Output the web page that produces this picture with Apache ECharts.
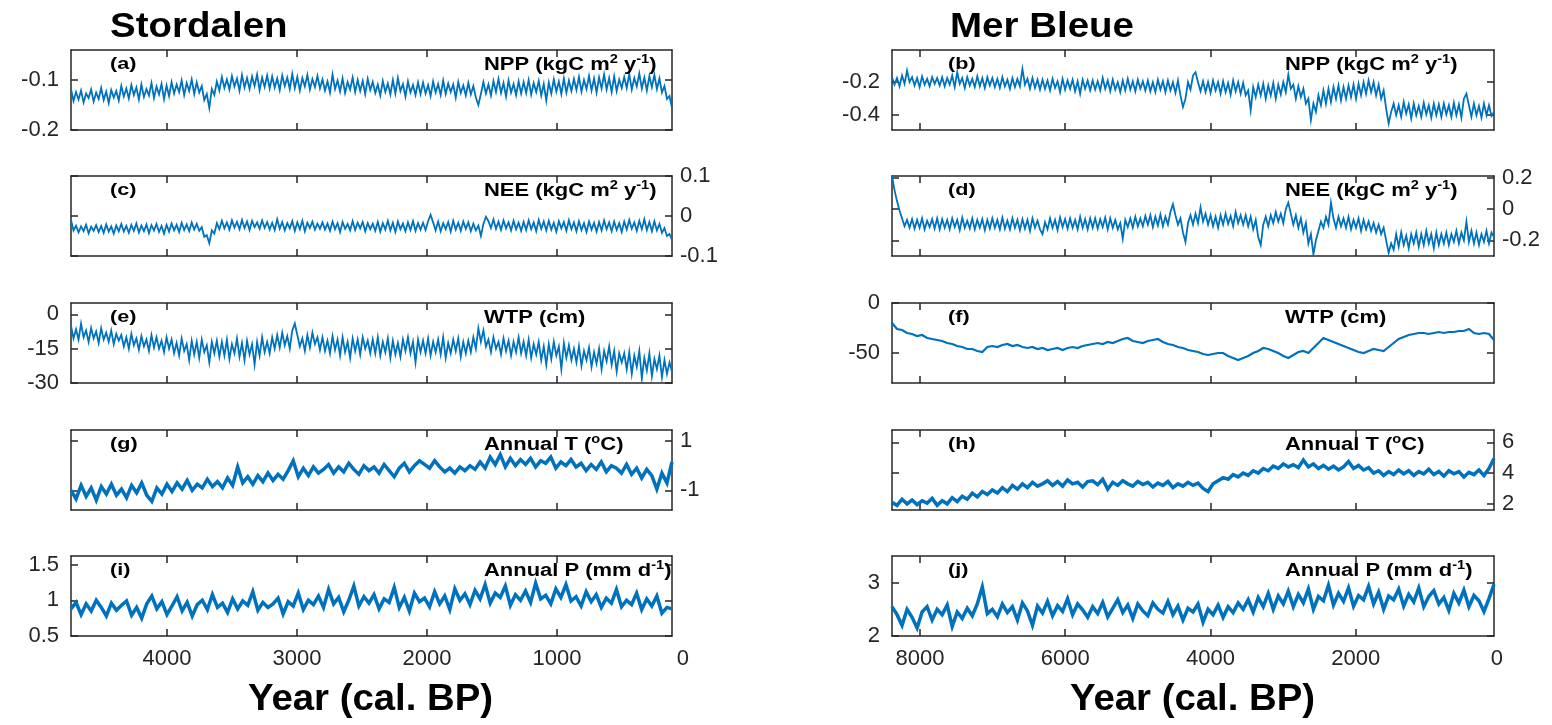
<!DOCTYPE html>
<html><head><meta charset="utf-8">
<script src="https://cdn.jsdelivr.net/npm/echarts@6/dist/echarts.min.js"></script>
<style>html,body{margin:0;padding:0;background:#fff}#c{width:1552px;height:725px}</style>
</head><body><div id="c"></div>
<script>
// ---------- axis ticks / ranges (years cal. BP) ----------
const stordXTicks = [1000, 2000, 3000, 4000];
const merXTicks = [2000, 4000, 6000, 8000];
const stordRange = [115, 4738];
const merRange = [96, 8385];

// ---------- Stordalen series (oldest -> youngest) ----------
const nppStord = [
-0.118,-0.142,-0.124,-0.139,-0.121,-0.145,-0.127,-0.136,-0.119,-0.143,-0.125,-0.138,-0.116,-0.140,-0.123,-0.146,-0.120,-0.135,-0.122,-0.141,
-0.112,-0.133,-0.117,-0.137,-0.110,-0.130,-0.115,-0.139,-0.109,-0.134,-0.118,-0.131,-0.106,-0.136,-0.113,-0.129,-0.108,-0.138,-0.111,-0.132,
-0.104,-0.127,-0.109,-0.124,-0.101,-0.130,-0.106,-0.122,-0.099,-0.128,-0.105,-0.125,-0.112,-0.140,-0.128,-0.156,-0.118,-0.130,-0.103,-0.121,
-0.094,-0.116,-0.099,-0.119,-0.092,-0.113,-0.097,-0.121,-0.090,-0.115,-0.096,-0.118,-0.093,-0.112,-0.089,-0.120,-0.095,-0.114,-0.091,-0.117,
-0.093,-0.115,-0.097,-0.120,-0.091,-0.112,-0.095,-0.118,-0.088,-0.116,-0.094,-0.121,-0.096,-0.113,-0.090,-0.119,-0.098,-0.114,-0.092,-0.117,
-0.099,-0.121,-0.103,-0.125,-0.089,-0.118,-0.101,-0.123,-0.097,-0.126,-0.104,-0.119,-0.095,-0.124,-0.100,-0.122,-0.102,-0.128,-0.098,-0.120,
-0.104,-0.126,-0.109,-0.131,-0.102,-0.124,-0.107,-0.129,-0.100,-0.127,-0.096,-0.122,-0.108,-0.133,-0.103,-0.125,-0.110,-0.130,-0.105,-0.128,
-0.105,-0.127,-0.110,-0.132,-0.103,-0.125,-0.108,-0.130,-0.101,-0.128,-0.107,-0.124,-0.109,-0.135,-0.104,-0.126,-0.111,-0.131,-0.106,-0.129,
-0.112,-0.135,-0.150,-0.128,-0.104,-0.127,-0.109,-0.131,-0.102,-0.124,-0.098,-0.126,-0.106,-0.133,-0.101,-0.125,-0.108,-0.130,-0.103,-0.127,
-0.104,-0.126,-0.100,-0.129,-0.106,-0.124,-0.102,-0.131,-0.108,-0.141,-0.105,-0.127,-0.099,-0.123,-0.103,-0.128,-0.097,-0.125,-0.101,-0.122,
-0.098,-0.120,-0.094,-0.123,-0.100,-0.118,-0.092,-0.121,-0.097,-0.125,-0.095,-0.117,-0.089,-0.119,-0.096,-0.124,-0.093,-0.122,-0.099,-0.116,
-0.094,-0.116,-0.088,-0.119,-0.096,-0.113,-0.087,-0.117,-0.095,-0.121,-0.092,-0.114,-0.090,-0.118,-0.097,-0.125,-0.112,-0.138,-0.132,-0.156];

const neeStord = [
-0.010,-0.036,-0.024,-0.041,-0.026,-0.038,-0.022,-0.043,-0.027,-0.037,-0.023,-0.040,-0.025,-0.042,-0.021,-0.039,-0.026,-0.044,-0.024,-0.038,
-0.020,-0.039,-0.025,-0.042,-0.022,-0.037,-0.019,-0.041,-0.024,-0.038,-0.021,-0.043,-0.023,-0.036,-0.020,-0.040,-0.025,-0.044,-0.022,-0.039,
-0.019,-0.036,-0.022,-0.040,-0.017,-0.035,-0.021,-0.038,-0.016,-0.034,-0.020,-0.037,-0.028,-0.052,-0.048,-0.068,-0.036,-0.044,-0.018,-0.033,
-0.012,-0.031,-0.016,-0.034,-0.011,-0.029,-0.015,-0.033,-0.010,-0.030,-0.014,-0.035,-0.012,-0.028,-0.016,-0.032,-0.011,-0.030,-0.015,-0.034,
-0.017,-0.035,-0.008,-0.032,-0.015,-0.036,-0.018,-0.031,-0.013,-0.037,-0.016,-0.033,-0.012,-0.038,-0.017,-0.030,-0.014,-0.034,-0.019,-0.032,
-0.016,-0.034,-0.019,-0.037,-0.014,-0.033,-0.018,-0.040,-0.015,-0.032,-0.020,-0.036,-0.013,-0.035,-0.017,-0.031,-0.015,-0.038,-0.018,-0.033,
-0.019,-0.037,-0.015,-0.039,-0.018,-0.034,-0.012,-0.036,-0.017,-0.040,-0.014,-0.033,-0.019,-0.038,-0.016,-0.035,-0.013,-0.037,-0.018,-0.034,
-0.017,-0.035,-0.013,0.003,-0.016,-0.036,-0.014,-0.038,-0.018,-0.033,-0.015,-0.039,-0.012,-0.034,-0.017,-0.037,-0.014,-0.032,-0.016,-0.038,
-0.019,-0.036,-0.024,-0.050,-0.020,-0.002,-0.013,-0.030,-0.009,-0.032,-0.014,-0.035,-0.011,-0.031,-0.016,-0.036,-0.012,-0.033,-0.017,-0.037,
-0.015,-0.035,-0.011,-0.033,-0.016,-0.038,-0.010,-0.032,-0.014,-0.036,-0.012,-0.034,-0.017,-0.039,-0.013,-0.031,-0.015,-0.037,-0.011,-0.033,
-0.016,-0.038,-0.013,-0.035,-0.018,-0.040,-0.014,-0.034,-0.017,-0.039,-0.015,-0.036,-0.011,-0.033,-0.016,-0.038,-0.014,-0.035,-0.018,-0.040,
-0.014,-0.034,-0.010,-0.032,-0.016,-0.037,-0.012,-0.033,-0.008,-0.035,-0.015,-0.038,-0.013,-0.036,-0.020,-0.042,-0.030,-0.050,-0.045,-0.060];

const wtpStord = [
-5,-10.5,-6.5,-11,-4,-10,-7,-12,-6,-10.5,-7.5,-12.5,-6,-11,-8,-12,-7,-13,-8.5,-11.5,
-9,-14,-10,-15,-8.5,-13.5,-10.5,-15.5,-9.5,-14,-11,-16,-9,-14.5,-10,-15,-11.5,-16.5,-10,-15,
-11,-17,-12.5,-18,-10.5,-16,-13,-20,-11.5,-17.5,-12,-19,-11,-16.5,-13.5,-21,-12,-17,-11.5,-18.5,
-12,-18,-11,-19.5,-13,-17,-10.5,-18.5,-12.5,-20,-11.5,-17.5,-13,-22,-12,-18,-10,-16.5,-12,-17,
-10,-15,-9,-14.5,-8,-13.5,-9.5,-15,-7,-4,-9,-14,-10.5,-16,-9,-14.5,-8,-13,-10,-15.5,
-10,-16,-11.5,-17,-9.5,-15.5,-11,-18,-10,-16.5,-12,-19,-10.5,-16,-11,-17.5,-10,-15,-11.5,-17,
-11,-17,-10,-18,-12,-16.5,-10.5,-19,-11.5,-17.5,-12.5,-18.5,-11,-16,-10,-17,-12,-21,-11,-16.5,
-11.5,-17,-10.5,-18,-12,-16.5,-11,-17.5,-10,-19,-12.5,-17,-11,-16,-10.5,-18.5,-12,-17,-11.5,-16.5,
-10,-15,-6,-12,-7,-14,-11,-16.5,-10,-15,-12,-17.5,-10.5,-16,-11.5,-18,-12,-16.5,-10,-17,
-12,-18,-11,-19,-13,-17.5,-12,-20,-14,-22,-13,-19.5,-12,-18,-14,-24,-12.5,-19,-13.5,-20,
-15,-21,-14,-22.5,-16,-20,-14.5,-23,-16.5,-21.5,-15,-24,-16,-20.5,-14,-22,-16,-25,-17,-21,
-17,-24,-16.5,-26,-18,-23,-16,-28,-19,-24.5,-17,-27,-19.5,-24,-18,-27.5,-20,-26,-21,-25];

const tStord = [
-1.0,-1.35,-0.8,-1.25,-0.9,-1.4,-0.85,-1.15,-0.75,-1.2,
-0.95,-1.3,-0.8,-1.1,-0.7,-1.2,-1.45,-0.9,-1.15,-0.75,
-1.05,-0.7,-0.95,-0.6,-1.0,-0.75,-0.9,-0.55,-0.85,-0.65,
-0.9,-0.5,-0.8,-0.05,-0.7,-0.45,-0.75,-0.4,-0.65,-0.3,
-0.6,-0.35,-0.55,-0.2,0.2,-0.45,-0.1,-0.4,-0.05,-0.3,
-0.15,0.05,-0.3,-0.05,-0.25,0.1,-0.15,-0.35,0.0,-0.2,
-0.05,-0.3,0.05,-0.2,-0.45,-0.1,0.1,-0.25,0.0,0.2,
0.05,-0.1,0.2,-0.05,-0.25,-0.1,-0.3,-0.05,-0.2,0.0,
-0.15,0.15,-0.1,0.35,0.05,0.45,-0.05,0.3,0.0,0.25,
0.05,0.3,-0.05,0.2,0.1,0.35,-0.1,0.15,0.0,0.25,
-0.05,0.1,-0.2,0.05,-0.15,0.15,-0.25,0.0,-0.1,-0.3,
0.05,-0.35,-0.1,-0.5,-0.15,-0.4,-0.95,-0.3,-0.7,0.15];

const pStord = [
0.88,0.97,0.8,0.95,0.85,1.0,0.9,0.78,0.96,0.86,
0.93,0.99,0.79,0.9,0.75,0.95,1.06,0.88,0.98,0.8,
0.92,1.05,0.85,0.97,0.78,0.94,1.0,0.87,1.08,0.9,
0.96,0.83,1.02,0.88,0.99,0.93,1.12,0.86,0.97,0.9,
0.95,1.03,0.81,0.98,0.92,1.1,0.87,1.0,0.94,1.06,
0.9,1.15,0.95,1.04,0.84,1.0,1.2,0.92,1.05,0.96,
1.08,0.88,1.02,0.97,1.18,0.9,1.04,0.85,1.1,0.98,
1.03,0.91,1.12,0.95,1.06,0.87,1.16,1.0,1.09,0.94,
1.14,1.02,1.22,0.96,1.1,1.04,1.2,0.93,1.08,1.0,
1.13,0.97,1.24,1.02,1.07,0.95,1.16,1.04,1.22,0.99,
1.05,0.92,1.12,0.98,1.08,0.9,1.03,0.96,1.15,0.91,
1.0,0.94,1.1,0.87,1.02,0.92,1.06,0.82,0.9,0.88];

// ---------- Mer Bleue series (oldest -> youngest) ----------
const nppMer = [
-0.17,-0.215,-0.175,-0.225,-0.16,-0.21,-0.13,-0.2,-0.17,-0.22,-0.175,-0.23,-0.165,-0.215,-0.18,-0.225,-0.17,-0.21,-0.175,-0.22,
-0.17,-0.225,-0.175,-0.215,-0.16,-0.23,-0.14,-0.21,-0.175,-0.235,-0.17,-0.22,-0.18,-0.23,-0.165,-0.225,-0.175,-0.235,-0.17,-0.22,
-0.175,-0.23,-0.18,-0.235,-0.17,-0.225,-0.185,-0.24,-0.175,-0.23,-0.18,-0.225,-0.12,-0.215,-0.18,-0.24,-0.175,-0.235,-0.185,-0.245,
-0.185,-0.24,-0.19,-0.25,-0.18,-0.235,-0.195,-0.26,-0.18,-0.245,-0.19,-0.24,-0.185,-0.255,-0.195,-0.27,-0.185,-0.24,-0.19,-0.25,
-0.19,-0.245,-0.195,-0.25,-0.175,-0.24,-0.19,-0.255,-0.185,-0.245,-0.2,-0.26,-0.19,-0.25,-0.18,-0.245,-0.195,-0.255,-0.185,-0.24,
-0.195,-0.25,-0.19,-0.255,-0.2,-0.26,-0.185,-0.245,-0.195,-0.26,-0.19,-0.25,-0.2,-0.265,-0.19,-0.28,-0.35,-0.3,-0.2,-0.245,
-0.16,-0.14,-0.2,-0.255,-0.195,-0.26,-0.2,-0.265,-0.19,-0.25,-0.2,-0.27,-0.195,-0.26,-0.205,-0.275,-0.19,-0.255,-0.2,-0.27,
-0.205,-0.28,-0.25,-0.37,-0.23,-0.29,-0.215,-0.28,-0.21,-0.3,-0.22,-0.28,-0.205,-0.3,-0.215,-0.275,-0.2,-0.26,-0.155,-0.24,
-0.215,-0.3,-0.225,-0.29,-0.24,-0.33,-0.3,-0.43,-0.33,-0.38,-0.28,-0.34,-0.25,-0.33,-0.24,-0.32,-0.23,-0.3,-0.22,-0.31,
-0.23,-0.3,-0.22,-0.29,-0.215,-0.3,-0.21,-0.28,-0.2,-0.27,-0.19,-0.26,-0.2,-0.28,-0.215,-0.3,-0.25,-0.36,-0.45,-0.38,
-0.33,-0.4,-0.34,-0.41,-0.32,-0.39,-0.335,-0.42,-0.33,-0.4,-0.345,-0.41,-0.325,-0.395,-0.34,-0.415,-0.33,-0.4,-0.335,-0.41,
-0.33,-0.395,-0.34,-0.41,-0.325,-0.4,-0.335,-0.415,-0.3,-0.27,-0.34,-0.41,-0.33,-0.4,-0.345,-0.415,-0.33,-0.4,-0.34,-0.405,-0.38];

const neeMer = [
0.21,0.12,0.05,-0.01,-0.06,-0.11,-0.07,-0.12,-0.065,-0.125,-0.07,-0.12,-0.06,-0.13,-0.075,-0.115,-0.065,-0.125,-0.06,-0.13,
-0.065,-0.12,-0.07,-0.13,-0.06,-0.115,-0.07,-0.135,-0.055,-0.12,-0.075,-0.125,-0.06,-0.13,-0.07,-0.12,-0.065,-0.135,-0.07,-0.125,
-0.06,-0.12,-0.07,-0.13,-0.055,-0.125,-0.075,-0.13,-0.06,-0.12,-0.07,-0.135,-0.065,-0.125,-0.07,-0.14,-0.06,-0.12,-0.075,-0.13,
-0.16,-0.085,-0.13,-0.06,-0.12,-0.07,-0.135,-0.055,-0.115,-0.065,-0.125,-0.06,-0.12,-0.07,-0.13,-0.05,-0.12,-0.065,-0.13,-0.06,
-0.12,-0.06,-0.125,-0.065,-0.115,-0.055,-0.13,-0.06,-0.12,-0.07,-0.13,-0.09,-0.19,-0.07,-0.115,-0.06,-0.12,-0.05,-0.11,-0.06,
-0.11,-0.045,-0.1,-0.04,-0.115,-0.05,-0.105,-0.035,-0.11,-0.05,-0.1,-0.02,0.03,-0.04,-0.1,-0.06,-0.15,-0.21,-0.09,-0.04,
-0.1,-0.03,-0.09,0.01,-0.08,-0.03,-0.1,-0.04,-0.11,-0.05,-0.12,-0.04,-0.1,-0.03,-0.095,-0.045,-0.11,-0.02,-0.09,-0.04,
-0.1,-0.04,-0.11,-0.05,-0.13,-0.07,-0.18,-0.23,-0.1,-0.05,-0.11,-0.04,-0.09,-0.02,-0.08,-0.03,-0.09,0.0,0.04,-0.03,
-0.1,-0.04,-0.12,-0.06,-0.15,-0.09,-0.22,-0.16,-0.29,-0.2,-0.14,-0.08,-0.12,-0.05,-0.1,0.04,-0.06,-0.12,-0.05,-0.11,
-0.06,-0.12,-0.05,-0.13,-0.07,-0.12,-0.06,-0.14,-0.07,-0.13,-0.08,-0.14,-0.09,-0.15,-0.1,-0.16,-0.12,-0.2,-0.28,-0.22,
-0.26,-0.16,-0.24,-0.15,-0.23,-0.17,-0.25,-0.16,-0.22,-0.15,-0.24,-0.16,-0.23,-0.14,-0.22,-0.16,-0.25,-0.15,-0.23,-0.16,
-0.22,-0.15,-0.23,-0.16,-0.21,-0.14,-0.22,-0.15,-0.2,-0.08,-0.21,-0.14,-0.22,-0.15,-0.23,-0.16,-0.21,-0.14,-0.22,-0.15,-0.18];

const wtpMer = [
-20,-26,-27,-30,-31,-33,-32,-35,-36,-37,
-38,-40,-41,-43,-44,-46,-46,-48,-49,-44,
-43,-44,-42,-41,-43,-42,-44,-45,-44,-46,
-45,-47,-46,-45,-47,-45,-44,-45,-43,-42,
-41,-40,-41,-39,-40,-38,-36,-35,-38,-39,
-40,-38,-37,-36,-39,-41,-42,-44,-45,-47,
-48,-49,-51,-52,-51,-50,-50,-53,-55,-57,
-55,-53,-50,-48,-45,-46,-48,-50,-53,-55,
-52,-49,-48,-50,-45,-40,-35,-37,-39,-41,
-43,-45,-47,-49,-50,-48,-46,-47,-48,-44,
-40,-36,-34,-32,-31,-30,-30,-31,-30,-29,
-30,-29,-29,-28,-28,-26,-30,-31,-30,-31,-37];

const tMer = [
2.1,1.9,2.3,2.0,2.25,1.95,2.2,2.05,2.35,1.9,
2.2,2.0,2.4,2.15,2.5,2.3,2.7,2.45,2.8,2.6,
2.9,2.7,3.05,2.8,3.2,2.95,3.3,3.05,3.4,3.15,
3.3,3.5,3.2,3.45,3.15,3.55,3.3,3.4,3.1,3.45,
3.5,3.25,3.6,2.95,3.4,3.2,3.5,3.3,3.15,3.45,
3.25,3.4,3.1,3.35,3.2,3.45,3.05,3.3,3.15,3.4,
3.2,3.35,3.0,2.8,3.3,3.5,3.7,3.6,3.9,3.75,
4.0,3.85,4.15,4.0,4.3,4.15,4.45,4.3,4.6,4.4,
4.55,4.35,4.85,4.4,4.6,4.3,4.5,4.25,4.45,4.2,
4.4,4.75,4.3,4.5,4.2,4.35,4.0,4.15,3.85,4.1,
3.9,4.2,3.95,4.15,3.85,4.1,3.95,4.25,3.9,4.1,
3.8,4.15,3.95,4.1,3.75,4.05,3.9,4.2,3.85,4.3,4.95];

const pMer = [
2.55,2.4,2.2,2.5,2.35,2.15,2.45,2.55,2.3,2.5,
2.4,2.58,2.18,2.45,2.33,2.52,2.38,2.6,2.92,2.42,
2.5,2.36,2.6,2.44,2.55,2.3,2.62,2.47,2.2,2.56,
2.43,2.65,2.38,2.57,2.46,2.7,2.4,2.6,2.49,2.35,
2.55,2.42,2.63,2.36,2.52,2.68,2.44,2.58,2.33,2.6,
2.47,2.38,2.62,2.5,2.43,2.65,2.4,2.56,2.3,2.52,
2.45,2.6,2.26,2.5,2.4,2.58,2.35,2.55,2.44,2.62,
2.5,2.68,2.45,2.72,2.55,2.8,2.5,2.75,2.6,2.84,
2.55,2.78,2.62,2.88,2.5,2.74,2.66,2.95,2.58,2.8,
2.65,2.9,2.56,2.76,2.68,2.93,2.6,2.82,2.5,2.75,
2.68,2.88,2.56,2.78,2.64,2.9,2.55,2.74,2.85,2.6,
2.72,2.48,2.8,2.62,2.86,2.55,2.76,2.66,2.46,2.7,2.97];

// ---------- y-axis ranges and tick labels ----------
const yNppStord = {min:-0.2, max:-0.04, ticks:[-0.2,-0.1]};
const yNppMer = {min:-0.49, max:-0.005, ticks:[-0.4,-0.2]};
const yNeeStord = {min:-0.1, max:0.1, ticks:[-0.1,0,0.1]};
const yNeeMer = {min:-0.3, max:0.21, ticks:[-0.2,0,0.2]};
const yWtpStord = {min:-30, max:5, ticks:[-30,-15,0]};
const yWtpMer = {min:-80, max:0, ticks:[-50,0]};
const yTStord = {min:-1.8, max:1.45, ticks:[-1,1]};
const yTMer = {min:1.6, max:6.8, ticks:[2,4,6]};
const yPStord = {min:0.5, max:1.62, ticks:[0.5,1,1.5]};
const yPMer = {min:2, max:3.5, ticks:[2,3]};

// ---------- labels ----------
const siteTitles = ['Stordalen', 'Mer Bleue'];
const xTitle = 'Year (cal. BP)';
const NOTE_NPP = '{b|NPP (kgC m}{s|2}{b| y}{s|-1}{b|)}';
const NOTE_NEE = '{b|NEE (kgC m}{s|2}{b| y}{s|-1}{b|)}';
const NOTE_WTP = '{b|WTP (cm)}';
const NOTE_T = '{b|Annual T (}{s|o}{b|C)}';
const NOTE_P = '{b|Annual P (mm d}{s|-1}{b|)}';

// ---------- layout ----------
const BLUE = '#0072BD', AX = '#262626';
const COLS = [{left:71, width:601}, {left:892, width:602}];
const TOPS = [50, 176, 303, 430, 556], H = 80;
const TICK_FONT = 'Liberation Sans, Arial, sans-serif';
const TICK_SIZE = 22;

const panels = [
  {col:0,row:0,vals:nppStord,y:yNppStord,side:'left', letter:'(a)',note:NOTE_NPP,lw:1.8},
  {col:1,row:0,vals:nppMer,  y:yNppMer,  side:'left', letter:'(b)',note:NOTE_NPP,lw:1.8},
  {col:0,row:1,vals:neeStord,y:yNeeStord,side:'right',letter:'(c)',note:NOTE_NEE,lw:1.8},
  {col:1,row:1,vals:neeMer,  y:yNeeMer,  side:'right',letter:'(d)',note:NOTE_NEE,lw:1.8},
  {col:0,row:2,vals:wtpStord,y:yWtpStord,side:'left', letter:'(e)',note:NOTE_WTP,lw:1.8},
  {col:1,row:2,vals:wtpMer,  y:yWtpMer,  side:'left', letter:'(f)',note:NOTE_WTP,lw:2.2},
  {col:0,row:3,vals:tStord,  y:yTStord,  side:'right',letter:'(g)',note:NOTE_T,lw:3.5},
  {col:1,row:3,vals:tMer,    y:yTMer,    side:'right',letter:'(h)',note:NOTE_T,lw:3.5},
  {col:0,row:4,vals:pStord,  y:yPStord,  side:'left', letter:'(i)',note:NOTE_P,lw:3.5},
  {col:1,row:4,vals:pMer,    y:yPMer,    side:'left', letter:'(j)',note:NOTE_P,lw:3.5}
];

function sampleYears(range, n){
  const out = [];
  for (let i = 0; i < n; i++) out.push(range[1] - (range[1] - range[0]) * i / (n - 1));
  return out;
}

const grid = [], xAxis = [], yAxis = [], series = [];
const axLine = {show:true, onZero:false, lineStyle:{color:AX, width:1.5}};
panels.forEach((p, i) => {
  const c = COLS[p.col];
  grid.push({left:c.left, width:c.width, top:TOPS[p.row], height:H, containLabel:false, outerBoundsMode:'none'});
  const xr = p.col ? merRange : stordRange;
  const xt = p.col ? merXTicks : stordXTicks;
  const bottomRow = p.row === 4;
  const xBase = {type:'value', gridIndex:i, min:xr[0], max:xr[1], inverse:true,
    splitLine:{show:false}, axisLine:axLine,
    axisTick:{show:true, inside:true, length:7, customValues:xt, lineStyle:{color:AX, width:1.5}}};
  xAxis.push(Object.assign({}, xBase, {position:'bottom',
    axisLabel:{show:bottomRow, customValues:xt, margin:12, fontSize:TICK_SIZE, fontFamily:TICK_FONT, color:AX,
      formatter: v => String(v)}}));
  xAxis.push(Object.assign({}, xBase, {position:'top', axisLabel:{show:false}}));
  const yBase = {type:'value', gridIndex:i, min:p.y.min, max:p.y.max, splitLine:{show:false}, axisLine:axLine,
    axisTick:{show:true, inside:true, length:7, customValues:p.y.ticks, lineStyle:{color:AX, width:1.5}}};
  const other = p.side === 'left' ? 'right' : 'left';
  yAxis.push(Object.assign({}, yBase, {position:p.side,
    axisLabel:{show:true, customValues:p.y.ticks, margin:p.side==='left'?12:8, fontSize:TICK_SIZE, fontFamily:TICK_FONT, color:AX,
      formatter: v => String(v)}}));
  yAxis.push(Object.assign({}, yBase, {position:other, axisLabel:{show:false}}));
  const yrs = sampleYears(xr, p.vals.length);
  series.push({type:'line', xAxisIndex:2*i, yAxisIndex:2*i, data:yrs.map((yr,k)=>[yr, p.vals[k]]),
    showSymbol:false, symbol:'none', clip:true, animation:false,
    lineStyle:{color:BLUE, width:p.lw, join:'miter'}});
});

const chart = echarts.init(document.getElementById('c'), null, {renderer:'canvas'});
chart.setOption({animation:false, backgroundColor:'#fff', grid, xAxis, yAxis, series});

// ---------- text overlays ----------
const BOLD = 'Liberation Sans, Arial, sans-serif';
const g = [];
function txt(x, y, text, size, sx){
  g.push({type:'text', x, y, scaleX:sx, z:10,
    style:{text, fontFamily:BOLD, fontWeight:'bold', fontSize:size, fill:'#000', textVerticalAlign:'middle', textAlign:'left'}});
}
txt(110, 27, siteTitles[0], 35, 1.1);
txt(950, 27, siteTitles[1], 35, 1.1);
txt(248, 700, xTitle, 36, 1.065);
txt(1070, 700, xTitle, 36, 1.065);
const noteX = [484, 1285], letterX = [110, 948];
panels.forEach(p => {
  const y = TOPS[p.row] + 14;
  txt(letterX[p.col], y, p.letter, 17, 1.27);
  g.push({type:'text', x:noteX[p.col], y:y, scaleX:1.22, z:10,
    style:{text:p.note, textVerticalAlign:'middle', textAlign:'left', fill:'#000',
      rich:{b:{fontFamily:BOLD, fontWeight:'bold', fontSize:18, lineHeight:20, fill:'#000', verticalAlign:'bottom'},
            s:{fontFamily:BOLD, fontWeight:'bold', fontSize:12, lineHeight:20, fill:'#000', verticalAlign:'top'}}}});
});
// "0" labels at the extrapolated position of year 0 on the bottom axes
[16, 18].forEach(ax => {
  const px = chart.convertToPixel({xAxisIndex:ax}, 0);
  g.push({type:'text', x:px - 4, y:TOPS[4] + H + 12, z:10,
    style:{text:'0', fontFamily:TICK_FONT, fontSize:TICK_SIZE, fill:AX, textAlign:'center', textVerticalAlign:'top'}});
});
chart.setOption({graphic:g});
</script></body></html>
